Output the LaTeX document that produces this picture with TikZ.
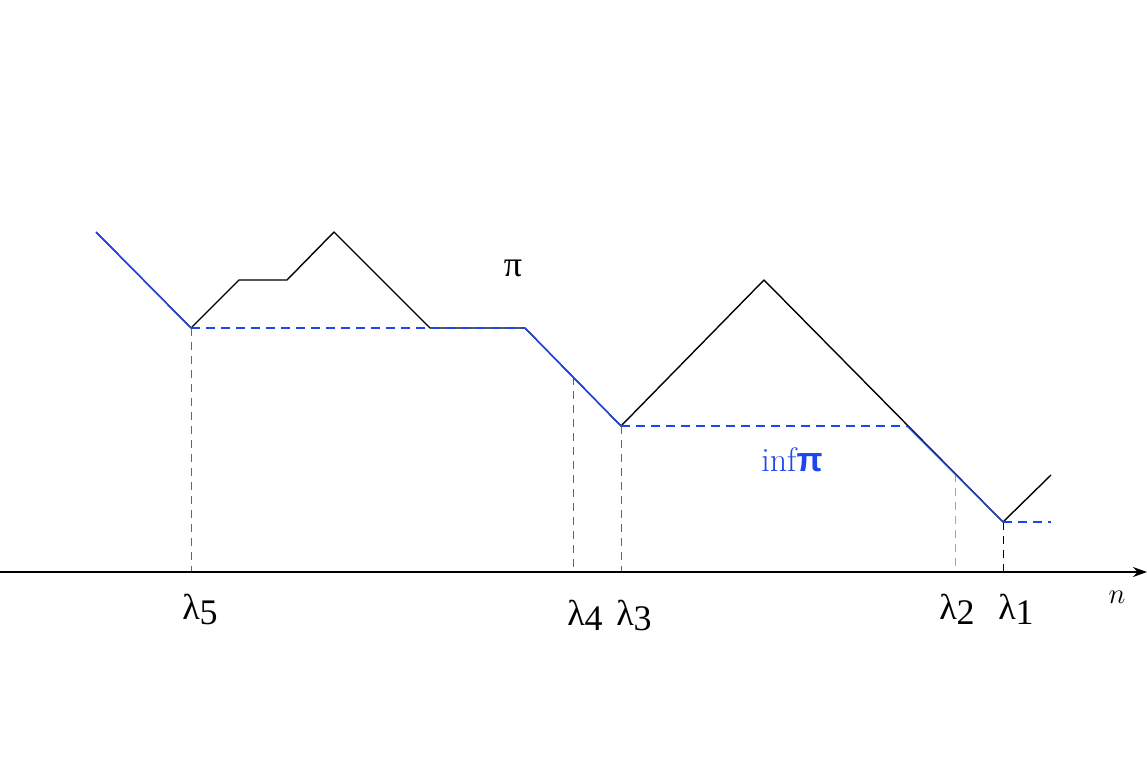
\documentclass[tikz,border=0pt]{standalone}
\usepackage{fontspec}
\newfontfamily\grk{Liberation Serif}
\newfontfamily\grksans{Liberation Sans}
\usetikzlibrary{arrows.meta}
\definecolor{pathblue}{RGB}{30,70,240}
\tikzset{
  pathline/.style={black, line width=0.7pt, line join=round},
  infline/.style={pathblue, line width=0.7pt},
  infdash/.style={pathblue, line width=0.7pt, dash pattern=on 4.5pt off 3pt},
  vdash/.style={gray!80!black, line width=0.5pt, dash pattern=on 4pt off 3pt},
  axisline/.style={black, line width=0.8pt, -{Stealth[length=7pt,width=5pt]}},
  lab/.style={inner sep=0pt, font=\grk\fontsize{18}{22}\selectfont},
}
\newcommand{\lam}[1]{λ\raisebox{-2.5pt}{#1}}
\begin{document}
\begin{tikzpicture}[x=0.5pt,y=-0.5pt]
\useasboundingbox (0,0) rectangle (1147,756);
% path points
\coordinate (p0) at (96,232);
\coordinate (p1) at (191,328);
\coordinate (p2) at (239,280);
\coordinate (p3) at (287,280);
\coordinate (p4) at (334,232);
\coordinate (p5) at (430,328);
\coordinate (p6) at (525,328);
\coordinate (p7) at (621,426);
\coordinate (p8) at (764,280);
\coordinate (q8) at (907,426);
\coordinate (p9) at (1003,522);
\coordinate (p10) at (1051,475);
\coordinate (e9) at (1051,522);
\coordinate (m4) at (573,377);
\coordinate (m2) at (955,474);
% axis
\coordinate (a0) at (0,572);
\coordinate (a1) at (1147,572);
\coordinate (x5) at (191,572);
\coordinate (x4) at (573,572);
\coordinate (x3) at (621,572);
\coordinate (x2) at (955,572);
\coordinate (x1) at (1003,572);
% vertical dashed
\draw[vdash] (p1) -- (x5);
\draw[vdash] (m4) -- (x4);
\draw[vdash] (p7) -- (x3);
\draw[vdash, gray!70] (m2) -- (x2);
\draw[vdash, black] (p9) -- (x1);
\draw[axisline] (a0) -- (a1);
% path
\draw[pathline] (p0) -- (p1) -- (p2) -- (p3) -- (p4) -- (p5) -- (p6) -- (p7) -- (p8) -- (p9) -- (p10);
% infimum
\draw[infline] (p0) -- (p1);
\draw[infdash] (p1) -- (p6);
\draw[infline] (p6) -- (p7);
\draw[infdash] (p7) -- (q8);
\draw[infline] (q8) -- (p9);
\draw[infdash] (p9) -- (e9);
% labels
\node[lab] (l5) at (200,609) {\lam{5}};
\node[lab] (l4) at (585,615) {\lam{4}};
\node[lab] (l3) at (634,615) {\lam{3}};
\node[lab] (l2) at (957,609) {\lam{2}};
\node[lab] (l1) at (1016,609) {\lam{1}};
\node[inner sep=0pt, font=\fontsize{14}{16}\selectfont] (n) at (1117,597) {$n$};
\node[lab] (pi) at (513,268) {π};
\node[inner sep=0pt, text=pathblue, font=\fontsize{17}{20}\selectfont] (inf) at (792,460) {inf{\grksans\bfseries π}};
\end{tikzpicture}
\end{document}
